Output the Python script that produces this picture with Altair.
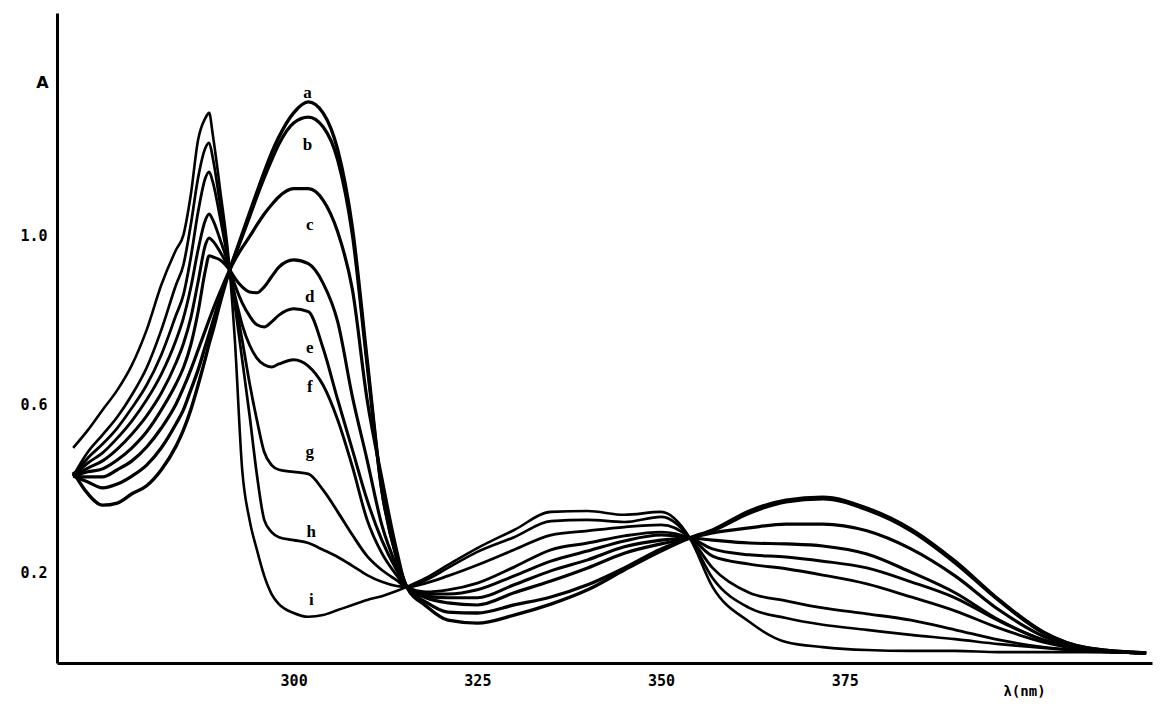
import altair as alt
import pandas as pd

wavelength = [270, 272, 274, 276, 278, 280, 282, 284, 285, 286, 287, 288, 288.5, 289, 290, 291.3,
              292, 293, 294, 295, 296, 297, 298, 300, 302, 304, 306, 308, 310, 312, 314, 315.4,
              318, 321, 325, 330, 335, 340, 345, 350, 353.9,
              357, 362, 367, 372, 378, 384, 390, 396, 402, 408, 416]

curve_a = [0.440, 0.388, 0.361, 0.366, 0.388, 0.407, 0.445, 0.501, 0.539, 0.587, 0.646, 0.710, 0.744, 0.774, 0.841, 0.919,
           0.955, 1.005, 1.055, 1.104, 1.152, 1.197, 1.235, 1.292, 1.318, 1.292, 1.204, 1.019, 0.706, 0.397, 0.236, 0.167,
           0.122, 0.088, 0.081, 0.100, 0.126, 0.160, 0.207, 0.252, 0.283,
           0.302, 0.347, 0.373, 0.380, 0.354, 0.304, 0.228, 0.136, 0.060, 0.022, 0.010]
curve_b = [0.430, 0.416, 0.402, 0.411, 0.430, 0.456, 0.497, 0.554, 0.587, 0.634, 0.682, 0.739, 0.767, 0.796, 0.853, 0.919,
           0.953, 0.998, 1.045, 1.093, 1.138, 1.180, 1.218, 1.268, 1.282, 1.259, 1.180, 1.002, 0.694, 0.397, 0.238, 0.167,
           0.131, 0.107, 0.105, 0.124, 0.143, 0.172, 0.212, 0.257, 0.283,
           0.300, 0.342, 0.369, 0.376, 0.350, 0.300, 0.224, 0.134, 0.058, 0.022, 0.010]
curve_c = [0.430, 0.428, 0.428, 0.445, 0.466, 0.499, 0.544, 0.601, 0.639, 0.682, 0.729, 0.777, 0.801, 0.824, 0.867, 0.919,
           0.943, 0.972, 0.998, 1.026, 1.052, 1.074, 1.093, 1.112, 1.112, 1.085, 1.009, 0.872, 0.611, 0.425, 0.255, 0.167,
           0.141, 0.129, 0.124, 0.153, 0.181, 0.212, 0.247, 0.269, 0.283,
           0.295, 0.307, 0.316, 0.316, 0.300, 0.257, 0.193, 0.112, 0.050, 0.020, 0.010]
curve_d = [0.430, 0.440, 0.447, 0.468, 0.497, 0.535, 0.587, 0.649, 0.687, 0.741, 0.820, 0.919, 0.953, 0.950, 0.943, 0.919,
           0.900, 0.879, 0.867, 0.865, 0.879, 0.903, 0.926, 0.943, 0.934, 0.888, 0.796, 0.618, 0.468, 0.314, 0.217, 0.167,
           0.145, 0.141, 0.141, 0.172, 0.205, 0.231, 0.262, 0.278, 0.283,
           0.278, 0.271, 0.269, 0.264, 0.245, 0.202, 0.153, 0.088, 0.041, 0.017, 0.010]
curve_e = [0.430, 0.449, 0.466, 0.494, 0.530, 0.573, 0.627, 0.699, 0.744, 0.805, 0.891, 0.979, 0.995, 0.988, 0.962, 0.919,
           0.884, 0.841, 0.810, 0.789, 0.784, 0.796, 0.812, 0.827, 0.820, 0.734, 0.611, 0.492, 0.373, 0.278, 0.207, 0.167,
           0.150, 0.150, 0.160, 0.193, 0.228, 0.252, 0.276, 0.290, 0.283,
           0.257, 0.243, 0.238, 0.228, 0.212, 0.179, 0.141, 0.086, 0.041, 0.017, 0.010]
curve_f = [0.430, 0.461, 0.485, 0.520, 0.561, 0.611, 0.672, 0.753, 0.805, 0.877, 0.967, 1.038, 1.052, 1.038, 0.991, 0.919,
           0.860, 0.789, 0.741, 0.710, 0.694, 0.689, 0.696, 0.706, 0.691, 0.646, 0.563, 0.452, 0.326, 0.247, 0.195, 0.167,
           0.155, 0.160, 0.176, 0.214, 0.255, 0.271, 0.288, 0.297, 0.283,
           0.240, 0.221, 0.210, 0.195, 0.174, 0.143, 0.110, 0.069, 0.036, 0.017, 0.010]
curve_g = [0.430, 0.473, 0.506, 0.544, 0.592, 0.646, 0.718, 0.812, 0.860, 0.948, 1.057, 1.138, 1.152, 1.128, 1.043, 0.919,
           0.848, 0.753, 0.651, 0.563, 0.487, 0.456, 0.445, 0.440, 0.435, 0.397, 0.345, 0.290, 0.240, 0.207, 0.183, 0.167,
           0.176, 0.193, 0.219, 0.255, 0.290, 0.300, 0.309, 0.314, 0.283,
           0.212, 0.153, 0.134, 0.117, 0.103, 0.088, 0.065, 0.041, 0.024, 0.015, 0.010]
curve_h = [0.430, 0.487, 0.528, 0.570, 0.623, 0.687, 0.777, 0.884, 0.931, 1.026, 1.138, 1.209, 1.221, 1.185, 1.074, 0.919,
           0.836, 0.706, 0.575, 0.433, 0.326, 0.297, 0.285, 0.278, 0.271, 0.255, 0.238, 0.217, 0.195, 0.179, 0.169, 0.167,
           0.183, 0.212, 0.250, 0.285, 0.323, 0.326, 0.321, 0.333, 0.283,
           0.188, 0.117, 0.093, 0.077, 0.065, 0.053, 0.043, 0.031, 0.022, 0.015, 0.010]
curve_i = [0.497, 0.539, 0.587, 0.634, 0.694, 0.777, 0.884, 0.967, 1.002, 1.097, 1.228, 1.280, 1.292, 1.240, 1.109, 0.919,
           0.753, 0.445, 0.326, 0.255, 0.193, 0.150, 0.126, 0.105, 0.096, 0.100, 0.112, 0.124, 0.136, 0.145, 0.157, 0.167,
           0.188, 0.219, 0.259, 0.302, 0.345, 0.347, 0.338, 0.345, 0.283,
           0.167, 0.084, 0.036, 0.024, 0.017, 0.015, 0.015, 0.012, 0.012, 0.012, 0.010]

curve_names = ["a", "b", "c", "d", "e", "f", "g", "h", "i"]
curve_values = [curve_a, curve_b, curve_c, curve_d, curve_e, curve_f, curve_g, curve_h, curve_i]

label_nm = [301.9, 301.9, 302.2, 302.2, 302.2, 302.2, 302.2, 302.4, 302.4]
label_A = [1.339, 1.216, 1.026, 0.855, 0.734, 0.642, 0.487, 0.297, 0.136]

y_ticks = [0.2, 0.6, 1.0]
x_ticks = [300, 325, 350, 375]

line_widths = [3.4, 2.6, 2.2, 2.2, 2.2, 2.2, 2.2, 2.2, 2.9]

rows = []
for name, vals in zip(curve_names, curve_values):
    for w, v in zip(wavelength, vals):
        rows.append({"curve": name, "nm": w, "A": v})
df = pd.DataFrame(rows)
labels_df = pd.DataFrame({"curve": curve_names, "nm": label_nm, "A": label_A})

x_scale = alt.Scale(domain=[267.8, 416.8], nice=False, zero=False)
y_scale = alt.Scale(domain=[-0.0137, 1.529], nice=False, zero=False)

mono = "DejaVu Sans Mono"

lines = alt.Chart(df).mark_line(interpolate="monotone", color="black", clip=True).encode(
    x=alt.X("nm:Q", scale=x_scale,
            axis=alt.Axis(values=x_ticks, ticks=False, grid=False, domainWidth=3, domainColor="black",
                          labelFont=mono, labelFontWeight="bold", labelFontSize=15, labelColor="black",
                          labelPadding=10, labelFlush=False,
                          title="λ(nm)", titleFont=mono, titleFontWeight="bold", titleFontSize=14,
                          titleColor="black", titleX=967, titleY=28, titleAlign="center",
                          titleBaseline="middle")),
    y=alt.Y("A:Q", scale=y_scale,
            axis=alt.Axis(values=y_ticks, format=".1f", ticks=False, grid=False, domainWidth=3,
                          domainColor="black", labelFont=mono, labelFontWeight="bold", labelFontSize=15,
                          labelColor="black", labelPadding=10,
                          title="A", titleFont="DejaVu Sans", titleFontWeight="bold", titleFontSize=16,
                          titleColor="black", titleAngle=0, titleX=-15, titleY=69,
                          titleAlign="center", titleBaseline="middle")),
    detail="curve:N",
    strokeWidth=alt.StrokeWidth("curve:N", scale=alt.Scale(domain=curve_names, range=line_widths), legend=None),
)

letters = alt.Chart(labels_df).mark_text(font="Liberation Serif", fontWeight="bold", fontSize=17,
                                         color="black", baseline="middle", align="center").encode(
    x=alt.X("nm:Q", scale=x_scale),
    y=alt.Y("A:Q", scale=y_scale),
    text="curve:N",
)

chart = alt.layer(lines, letters).properties(
    width=1095, height=650,
    autosize=alt.AutoSizeParams(type="none"),
    padding={"left": 49, "top": 5, "right": 2, "bottom": 35},
    background="white",
).configure_view(stroke=None)

chart.save("out.html", embed_options={"renderer": "svg", "actions": False})
